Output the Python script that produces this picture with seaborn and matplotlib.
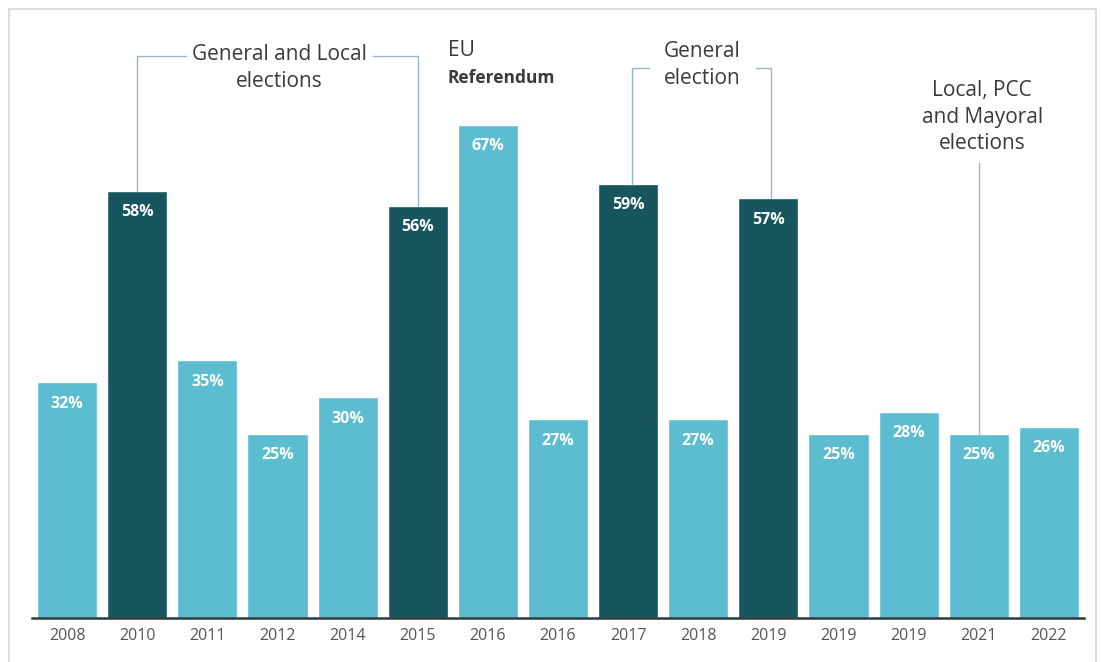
import matplotlib
matplotlib.use("Agg")
import matplotlib.pyplot as plt
import seaborn as sns
import pandas as pd
from matplotlib.patches import Rectangle

years = ["2008", "2010", "2011", "2012", "2014", "2015", "2016", "2016",
         "2017", "2018", "2019", "2019", "2019", "2021", "2022"]
values = [32, 58, 35, 25, 30, 56, 67, 27, 59, 27, 57, 25, 28, 25, 26]
election = [False, True, False, False, False, True, False, False,
            True, False, True, False, False, False, False]

LIGHT = "#5BBDCF"
DARK = "#17565E"
LINE = "#9AB3CF"
TXT = "#3A3A3A"

sns.set_theme(style="white")
plt.rcParams['font.family'] = ['Open Sans', 'DejaVu Sans']

df = pd.DataFrame({"pos": [str(i) for i in range(len(years))],
                   "value": values})
palette = {str(i): (DARK if e else LIGHT) for i, e in enumerate(election)}

fig = plt.figure(figsize=(11.02, 6.62), dpi=100)
ax = fig.add_axes([32 / 1102, 44 / 662, 1052 / 1102, 588.8 / 662])
sns.barplot(data=df, x="pos", y="value", hue="pos", palette=palette,
            order=df["pos"], hue_order=df["pos"], width=0.857,
            saturation=1, legend=False, ax=ax)
ax.set_xlim(-0.5, len(years) - 0.5)
ax.set_ylim(0, 80)
ax.set_xlabel("")
ax.set_ylabel("")
ax.set_yticks([])
ax.set_xticks(range(len(years)))
ax.set_xticklabels(years, fontsize=11.5, color="#555555")
ax.tick_params(axis="x", length=0, pad=7)
for s in ["top", "right", "left"]:
    ax.spines[s].set_visible(False)
ax.spines["bottom"].set_color("#2E3B3E")
ax.spines["bottom"].set_linewidth(1.8)

for i, v in enumerate(values):
    ax.text(i, v - 2.9, f"{v}%", ha="center", va="center", color="white",
            fontsize=11.5, fontweight="bold")

# Annotations
lw = 1.0
fs = 15
# General and Local elections bracket
ax.plot([1, 1, 1.69], [58, 76.3, 76.3], color=LINE, lw=lw, clip_on=False)
ax.plot([4.36, 5, 5], [76.3, 76.3, 56], color=LINE, lw=lw, clip_on=False)
ax.text(3.03, 78.0, "General and Local\nelections", ha="center", va="top",
        fontsize=fs, color=TXT, linespacing=1.35)
# EU Referendum
ax.text(5.43, 78.5, "EU", ha="left", va="top", fontsize=fs, color=TXT)
ax.text(5.43, 74.6, "Referendum", ha="left", va="top", fontsize=12.5,
        fontweight="bold", color=TXT)
# General election bracket
ax.plot([8.05, 8.05, 8.3], [59, 74.7, 74.7], color=LINE, lw=lw, clip_on=False)
ax.plot([9.83, 10.04, 10.04], [74.7, 74.7, 57], color=LINE, lw=lw,
        clip_on=False)
ax.text(9.05, 78.4, "General\nelection", ha="center", va="top",
        fontsize=fs, color=TXT, linespacing=1.35)
# Local, PCC and Mayoral elections
ax.plot([13, 13], [61.8, 25], color=LINE, lw=lw, clip_on=False)
ax.text(13.05, 73.1, "Local, PCC\nand Mayoral\nelections", ha="center",
        va="top", fontsize=fs, color=TXT, linespacing=1.35)

# thin frame around the figure
fig.patches.append(Rectangle((9 / 1102, -0.02), 1087 / 1102, 1.02 - 9 / 662,
                             transform=fig.transFigure, fill=False,
                             edgecolor="#D6D6D6", lw=1.2))

fig.savefig("out.png", dpi=100)
